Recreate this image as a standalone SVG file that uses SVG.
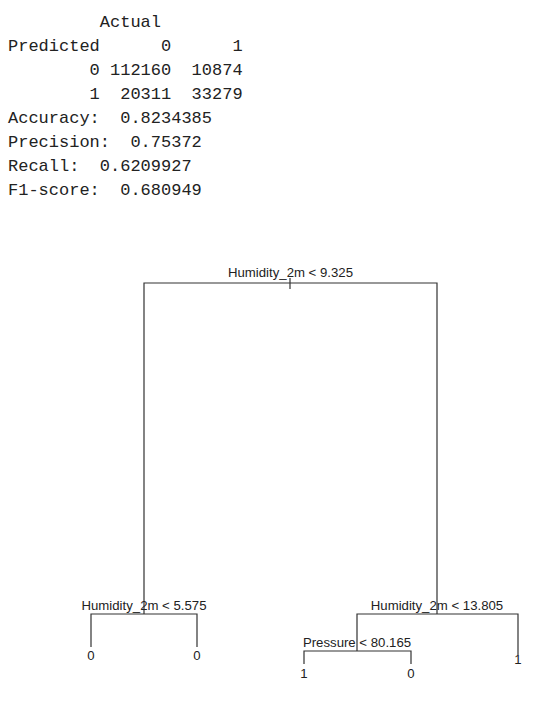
<svg xmlns="http://www.w3.org/2000/svg" width="560" height="726" viewBox="0 0 560 726">
<style>
.mono{font-family:"Liberation Mono","DejaVu Sans Mono",monospace;font-size:17px;fill:#222}
.lbl{font-family:"Liberation Sans",Arial,sans-serif;font-size:13.2px;fill:#222;text-anchor:middle}
.edge{stroke:#333;stroke-width:1.2;fill:none}
</style>
<rect width="560" height="726" fill="#fff"/>
<g id="output" class="mono">
<text x="99.8" y="27">Actual</text>
<text y="51"><tspan x="8">Predicted</tspan><tspan x="161">0</tspan><tspan x="232.4">1</tspan></text>
<text y="75"><tspan x="89.6">0</tspan><tspan x="110">112160</tspan><tspan x="191.6">10874</tspan></text>
<text y="99"><tspan x="89.6">1</tspan><tspan x="120.2">20311</tspan><tspan x="191.6">33279</tspan></text>
<text y="123"><tspan x="8">Accuracy:</tspan><tspan x="120.2">0.8234385</tspan></text>
<text y="147"><tspan x="8">Precision:</tspan><tspan x="130.4">0.75372</tspan></text>
<text y="171"><tspan x="8">Recall:</tspan><tspan x="99.8">0.6209927</tspan></text>
<text y="195"><tspan x="8">F1-score:</tspan><tspan x="120.2">0.680949</tspan></text>
</g>
<g id="connectors" class="edge">
<path d="M290,278 V289"/>
<path d="M144,614 V283 H437 V614"/>
<path d="M91,647 V614 H197 V647"/>
<path d="M357,651 V614 H518 V655"/>
<path d="M304,664 V651 H411 V664"/>
</g>
<g id="root"><text class="lbl" x="290.5" y="277">Humidity_2m &lt; 9.325</text></g>
<g id="node-left"><text class="lbl" x="144" y="610">Humidity_2m &lt; 5.575</text></g>
<g id="node-right"><text class="lbl" x="437" y="610">Humidity_2m &lt; 13.805</text></g>
<g id="node-pressure"><text class="lbl" x="357" y="647">Pressure &lt; 80.165</text></g>
<g id="leaf-1"><text class="lbl" x="91" y="660">0</text></g>
<g id="leaf-2"><text class="lbl" x="197" y="660">0</text></g>
<g id="leaf-3"><text class="lbl" x="304" y="678">1</text></g>
<g id="leaf-4"><text class="lbl" x="411" y="678">0</text></g>
<g id="leaf-5"><text class="lbl" x="518" y="664">1</text></g>
</svg>
